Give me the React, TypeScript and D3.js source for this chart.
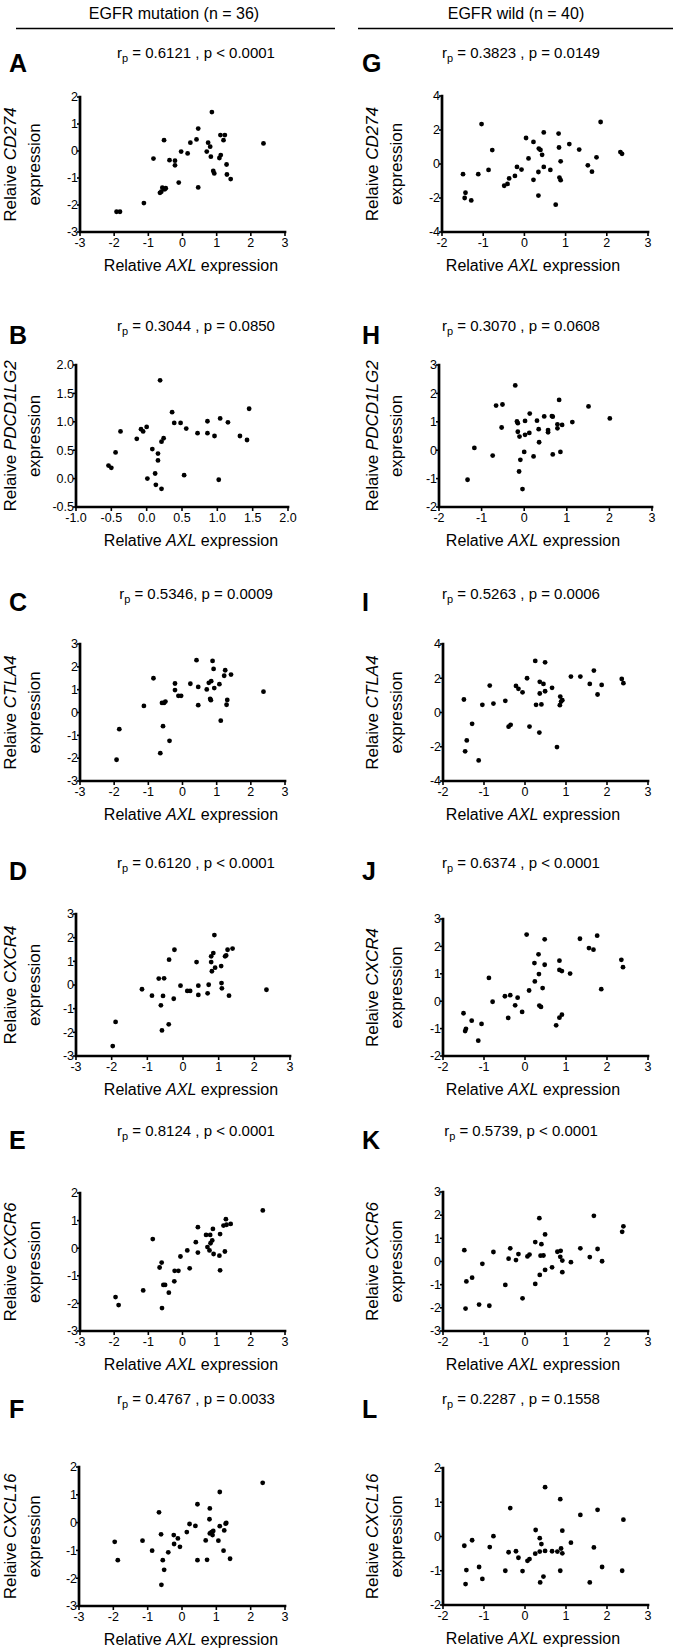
import React from 'react';
import * as d3 from 'd3';

type Pt = [number, number];

// AXL (x) vs gene (y), EGFR mutation group
const cd274Mut: Pt[] = [
  [0.86, 1.44], [0.46, 0.83], [-0.54, 0.4], [0.41, 0.43], [0.23, 0.31], [1.11, 0.59], [1.24, 0.59],
  [1.2, 0.4], [2.37, 0.28], [0.75, 0.31], [0.81, 0.16], [0.71, -0.02], [-0.04, -0.02], [0.15, -0.09],
  [-0.85, -0.28], [-0.38, -0.34], [-0.22, -0.36], [-0.22, -0.53], [0.83, -0.21], [1.12, -0.15],
  [1.08, -0.26], [1.29, -0.5], [0.9, -0.74], [0.93, -0.83], [1.3, -0.87], [1.41, -1.04], [-0.11, -1.17],
  [0.46, -1.35], [-0.59, -1.36], [-0.52, -1.42], [-0.62, -1.51], [-0.66, -1.55], [-1.13, -1.93],
  [-1.93, -2.25], [-1.83, -2.25], [-0.49, -1.38],
];
const pdcd1lg2Mut: Pt[] = [
  [0.19, 1.73], [1.45, 1.23], [0.36, 1.17], [0.39, 0.98], [0.48, 0.98], [0.86, 1.01], [1.04, 1.06],
  [1.15, 0.99], [0.0, 0.91], [-0.08, 0.87], [-0.05, 0.83], [-0.37, 0.83], [0.56, 0.88], [0.72, 0.8],
  [0.86, 0.8], [0.96, 0.75], [1.32, 0.75], [1.42, 0.68], [-0.14, 0.7], [0.24, 0.71], [0.21, 0.65],
  [-0.44, 0.46], [0.08, 0.52], [0.16, 0.44], [0.16, 0.32], [-0.54, 0.23], [-0.5, 0.19], [0.12, 0.09],
  [0.53, 0.06], [0.01, 0.0], [1.02, -0.02], [0.13, -0.11], [0.21, -0.18],
];
const ctla4Mut: Pt[] = [
  [0.41, 2.29], [0.88, 2.26], [0.91, 1.91], [1.25, 1.85], [1.42, 1.66], [1.22, 1.61], [-0.85, 1.5],
  [0.84, 1.37], [0.77, 1.3], [-0.22, 1.27], [0.23, 1.26], [1.08, 1.24], [0.46, 1.12], [0.93, 1.07],
  [0.71, 1.01], [-0.22, 0.98], [-0.12, 0.73], [-0.04, 0.73], [0.81, 0.6], [0.83, 0.54], [1.31, 0.55],
  [-0.5, 0.48], [-0.6, 0.42], [-0.54, 0.42], [0.46, 0.32], [1.29, 0.34], [-1.13, 0.29], [1.12, -0.36],
  [-1.85, -0.73], [-0.57, -0.6], [-0.38, -1.24], [-0.65, -1.78], [-1.93, -2.07], [2.37, 0.91],
];
const cxcr4Mut: Pt[] = [
  [0.88, 2.11], [1.39, 1.54], [1.25, 1.49], [-0.24, 1.49], [0.85, 1.35], [0.79, 1.21], [1.21, 1.25],
  [1.18, 1.21], [-0.39, 1.07], [0.38, 0.97], [0.79, 0.97], [1.07, 0.8], [0.9, 0.73], [0.81, 0.58],
  [-0.68, 0.27], [-0.53, 0.28], [1.08, 0.08], [-0.07, -0.03], [0.43, -0.03], [0.72, 0.01], [1.09, -0.14],
  [-1.15, -0.18], [2.34, -0.2], [0.12, -0.25], [0.2, -0.25], [-0.87, -0.45], [-0.56, -0.46], [0.43, -0.42],
  [0.69, -0.35], [1.29, -0.45], [-0.26, -0.58], [-0.62, -0.86], [-0.4, -1.66], [-0.59, -1.92],
  [-1.89, -1.56], [-1.97, -2.58],
];
const cxcr6Mut: Pt[] = [
  [2.35, 1.37], [1.27, 1.05], [1.41, 0.88], [1.29, 0.85], [1.2, 0.82], [0.45, 0.76], [0.89, 0.7],
  [-0.87, 0.33], [0.69, 0.48], [0.81, 0.48], [1.1, 0.51], [0.87, 0.28], [0.39, 0.22], [0.82, 0.18],
  [0.14, -0.08], [0.73, 0.04], [0.79, -0.08], [0.45, -0.16], [1.24, -0.12], [0.91, -0.21], [1.08, -0.27],
  [-0.06, -0.3], [-0.61, -0.52], [-0.67, -0.7], [0.21, -0.73], [-0.23, -0.82], [-0.12, -0.82], [1.1, -0.8],
  [-0.24, -1.2], [-0.56, -1.33], [-0.51, -1.33], [-1.15, -1.53], [-0.4, -1.61], [-1.96, -1.77],
  [-1.87, -2.06], [-0.6, -2.17],
];
const cxcl16Mut: Pt[] = [
  [2.35, 1.43], [1.1, 1.1], [0.45, 0.66], [0.81, 0.51], [-0.67, 0.37], [0.8, 0.12], [0.22, -0.05],
  [0.39, -0.12], [1.29, -0.01], [1.27, -0.04], [1.1, -0.13], [0.14, -0.34], [0.91, -0.3], [0.86, -0.34],
  [0.81, -0.39], [0.89, -0.45], [1.23, -0.28], [-0.61, -0.42], [-0.24, -0.45], [-0.12, -0.57],
  [0.69, -0.64], [1.06, -0.65], [-1.96, -0.69], [-1.15, -0.65], [-0.23, -0.77], [-0.06, -0.87],
  [-0.87, -1.01], [1.21, -1.01], [-0.4, -1.07], [-1.87, -1.35], [-0.56, -1.35], [0.45, -1.35],
  [0.73, -1.34], [1.4, -1.3], [-0.52, -1.7], [-0.6, -2.24],
];

// AXL (x) vs gene (y), EGFR wild group
const cd274Wild: Pt[] = [
  [-1.04, 2.35], [1.85, 2.47], [0.47, 1.86], [0.83, 1.79], [0.04, 1.53], [0.22, 1.3], [1.09, 1.17],
  [0.84, 0.97], [1.33, 0.85], [0.35, 0.91], [0.39, 0.83], [-0.78, 0.82], [2.33, 0.7], [2.37, 0.6],
  [0.43, 0.54], [1.75, 0.39], [0.1, 0.33], [0.88, 0.16], [-1.49, -0.6], [-1.12, -0.6], [-0.87, -0.35],
  [-0.18, -0.17], [-0.07, -0.33], [0.47, -0.17], [0.63, -0.35], [0.34, -0.47], [1.54, -0.08],
  [1.64, -0.45], [-0.23, -0.7], [-0.37, -0.85], [0.22, -0.93], [0.85, -0.8], [0.88, -0.95],
  [-0.41, -1.17], [-0.49, -1.28], [-1.43, -1.69], [-1.45, -2.0], [-1.29, -2.14], [0.34, -1.86],
  [0.76, -2.39],
];
const pdcd1lg2Wild: Pt[] = [
  [-0.21, 2.28], [-0.66, 1.57], [-0.51, 1.61], [0.82, 1.77], [1.51, 1.54], [0.13, 1.29], [0.47, 1.19],
  [0.65, 1.2], [0.67, 1.18], [2.01, 1.12], [-0.17, 1.01], [-0.15, 0.95], [0.02, 1.03], [0.3, 1.04],
  [1.13, 0.99], [0.78, 0.91], [0.89, 0.89], [0.78, 0.77], [-0.53, 0.8], [0.34, 0.74], [0.56, 0.71],
  [0.56, 0.63], [-0.15, 0.65], [0.12, 0.61], [0.02, 0.54], [-0.11, 0.48], [0.35, 0.28], [-1.17, 0.08],
  [0.0, -0.06], [0.85, -0.06], [-0.74, -0.19], [0.22, -0.22], [0.67, -0.15], [-0.09, -0.34],
  [-0.12, -0.75], [-1.33, -1.04], [-0.04, -1.37],
];
const ctla4Wild: Pt[] = [
  [0.25, 3.01], [0.49, 2.93], [1.68, 2.45], [1.12, 2.1], [1.35, 2.1], [2.36, 1.96], [2.4, 1.71],
  [0.05, 2.0], [0.36, 1.79], [0.45, 1.67], [1.58, 1.67], [1.87, 1.61], [-0.86, 1.57], [-0.22, 1.55],
  [-0.16, 1.38], [0.66, 1.44], [0.49, 1.24], [-0.06, 1.18], [0.36, 1.11], [1.77, 1.05], [0.86, 0.93],
  [0.91, 0.72], [0.88, 0.64], [-1.49, 0.76], [-0.48, 0.68], [-0.77, 0.52], [-1.04, 0.45], [0.27, 0.45],
  [0.4, 0.47], [0.85, 0.43], [-1.29, -0.66], [-0.35, -0.72], [-0.4, -0.83], [0.11, -0.82],
  [0.35, -1.17], [-1.42, -1.63], [-1.46, -2.27], [0.78, -2.02], [-1.13, -2.8],
];
const cxcr4Wild: Pt[] = [
  [0.04, 2.43], [1.76, 2.39], [1.34, 2.28], [0.48, 2.26], [1.56, 1.94], [1.67, 1.88], [0.33, 1.71],
  [2.35, 1.51], [2.39, 1.24], [0.84, 1.48], [0.23, 1.39], [0.48, 1.33], [0.84, 1.14], [0.9, 1.1],
  [1.1, 1.01], [0.34, 0.99], [-0.88, 0.85], [0.24, 0.72], [0.43, 0.48], [1.86, 0.44], [0.1, 0.39],
  [-0.49, 0.18], [-0.36, 0.22], [-0.18, 0.13], [-0.79, -0.02], [-0.24, -0.15], [0.35, -0.16],
  [0.39, -0.21], [-0.07, -0.39], [-1.5, -0.44], [0.9, -0.49], [0.84, -0.6], [-0.41, -0.61],
  [-1.3, -0.71], [-1.06, -0.83], [0.76, -0.88], [-1.44, -1.01], [-1.46, -1.09], [-1.14, -1.44],
];
const cxcr6Wild: Pt[] = [
  [0.35, 1.87], [1.68, 1.97], [2.4, 1.52], [2.37, 1.28], [0.49, 1.17], [0.25, 0.84], [0.4, 0.75],
  [-1.48, 0.49], [-0.77, 0.41], [-0.36, 0.57], [1.35, 0.57], [1.77, 0.54], [-0.16, 0.32], [0.11, 0.3],
  [0.06, 0.22], [-0.4, 0.12], [-0.22, 0.06], [0.38, 0.25], [0.45, 0.26], [0.79, 0.42], [0.87, 0.46],
  [0.86, 0.2], [0.91, 0.04], [1.12, -0.03], [1.58, 0.19], [1.88, 0.01], [-1.04, -0.1], [0.66, -0.25],
  [0.49, -0.36], [0.91, -0.46], [0.36, -0.58], [-1.29, -0.7], [-1.43, -0.86], [-0.48, -1.01],
  [0.25, -0.97], [-0.06, -1.59], [-1.12, -1.86], [-0.87, -1.91], [-1.45, -2.03],
];
const cxcl16Wild: Pt[] = [
  [0.49, 1.44], [0.86, 1.09], [-0.36, 0.83], [1.77, 0.78], [1.35, 0.63], [2.4, 0.49], [0.26, 0.19],
  [0.91, 0.17], [-0.77, 0.01], [0.36, -0.05], [-1.29, -0.11], [1.12, -0.18], [0.4, -0.22], [-1.48, -0.27],
  [-0.86, -0.31], [1.68, -0.32], [0.88, -0.35], [-0.22, -0.43], [-0.4, -0.46], [0.36, -0.44],
  [0.49, -0.42], [0.66, -0.43], [0.79, -0.44], [0.25, -0.5], [0.91, -0.49], [-0.16, -0.62],
  [0.11, -0.66], [0.06, -0.71], [-1.12, -0.89], [1.88, -0.89], [-1.43, -0.98], [-0.48, -1.0],
  [-0.06, -1.01], [0.86, -1.0], [2.37, -1.0], [-1.04, -1.24], [0.45, -1.17], [0.37, -1.34],
  [1.58, -1.34], [-1.45, -1.39],
];

const xTicksMut = [-3, -2, -1, 0, 1, 2, 3];
const xTicksWild = [-2, -1, 0, 1, 2, 3];
const xTicksB = [-1.0, -0.5, 0.0, 0.5, 1.0, 1.5, 2.0];
const yTicksB = [-0.5, 0.0, 0.5, 1.0, 1.5, 2.0];
const yTicks3to2 = [-3, -2, -1, 0, 1, 2];
const yTicks3to3 = [-3, -2, -1, 0, 1, 2, 3];
const yTicks2to3 = [-2, -1, 0, 1, 2, 3];
const yTicks2to2 = [-2, -1, 0, 1, 2];
const yTicks4 = [-4, -2, 0, 2, 4];

const panels = [
  { id: 'A', gene: 'CD274', stat: ' = 0.6121 , p < 0.0001', pts: cd274Mut, xt: xTicksMut, yt: yTicks3to2, dec: false, col: 0, row: 0, box: [80, 285, 97, 232] },
  { id: 'B', gene: 'PDCD1LG2', stat: ' = 0.3044 , p = 0.0850', pts: pdcd1lg2Mut, xt: xTicksB, yt: yTicksB, dec: true, col: 0, row: 1, box: [76, 288, 365, 507] },
  { id: 'C', gene: 'CTLA4', stat: ' = 0.5346, p = 0.0009', pts: ctla4Mut, xt: xTicksMut, yt: yTicks3to3, dec: false, col: 0, row: 2, box: [80, 285, 644, 781] },
  { id: 'D', gene: 'CXCR4', stat: ' = 0.6120 , p < 0.0001', pts: cxcr4Mut, xt: xTicksMut, yt: yTicks3to3, dec: false, col: 0, row: 3, box: [76, 290, 914, 1056] },
  { id: 'E', gene: 'CXCR6', stat: ' = 0.8124 , p < 0.0001', pts: cxcr6Mut, xt: xTicksMut, yt: yTicks3to2, dec: false, col: 0, row: 4, box: [80, 285, 1193, 1331] },
  { id: 'F', gene: 'CXCL16', stat: ' = 0.4767 , p = 0.0033', pts: cxcl16Mut, xt: xTicksMut, yt: yTicks3to2, dec: false, col: 0, row: 5, box: [79, 285, 1467, 1606] },
  { id: 'G', gene: 'CD274', stat: ' = 0.3823 , p = 0.0149', pts: cd274Wild, xt: xTicksWild, yt: yTicks4, dec: false, col: 1, row: 0, box: [442, 648, 96, 232] },
  { id: 'H', gene: 'PDCD1LG2', stat: ' = 0.3070 , p = 0.0608', pts: pdcd1lg2Wild, xt: xTicksWild, yt: yTicks2to3, dec: false, col: 1, row: 1, box: [439, 652, 365, 507] },
  { id: 'I', gene: 'CTLA4', stat: ' = 0.5263 , p = 0.0006', pts: ctla4Wild, xt: xTicksWild, yt: yTicks4, dec: false, col: 1, row: 2, box: [443, 648, 644, 781] },
  { id: 'J', gene: 'CXCR4', stat: ' = 0.6374 , p < 0.0001', pts: cxcr4Wild, xt: xTicksWild, yt: yTicks2to3, dec: false, col: 1, row: 3, box: [443, 648, 919, 1056] },
  { id: 'K', gene: 'CXCR6', stat: ' = 0.5739, p < 0.0001', pts: cxcr6Wild, xt: xTicksWild, yt: yTicks3to3, dec: false, col: 1, row: 4, box: [443, 648, 1192, 1331] },
  { id: 'L', gene: 'CXCL16', stat: ' = 0.2287 , p = 0.1558', pts: cxcl16Wild, xt: xTicksWild, yt: yTicks2to2, dec: false, col: 1, row: 5, box: [443, 648, 1468, 1605] },
];

const titleY = [53, 326, 594, 863, 1131, 1399];
const letterY = [63, 335, 602, 871, 1140, 1409];
const FONT = '"Liberation Sans", Arial, Helvetica, sans-serif';

function Panel({ p }: { p: any }) {
  const [x0, x1, y0, y1] = p.box;
  const xt: number[] = p.xt;
  const yt: number[] = p.yt;
  const x = d3.scaleLinear().domain([xt[0], xt[xt.length - 1]]).range([x0, x1]);
  const y = d3.scaleLinear().domain([yt[0], yt[yt.length - 1]]).range([y1, y0]);
  const fmt = (v: number) => (p.dec ? v.toFixed(1) : String(v));
  const left = p.col === 0;
  const titleX = left ? 196 : 521;
  const letterX = left ? 9 : 362;
  const lab1 = left ? 16 : 378;
  const lab2 = left ? 40 : 402;
  const xLabX = left ? 191 : 533;
  const midY = (y0 + y1) / 2;
  const axisPath = d3.line()([[x0, y0], [x0, y1], [x1, y1]]) as string;

  return (
    <g>
      <text x={letterX} y={letterY[p.row] + 9} fontSize={25} fontWeight="bold">{p.id}</text>
      <text x={titleX} y={titleY[p.row] + 5} fontSize={15} textAnchor="middle">
        r<tspan fontSize={11} dy={4}>p</tspan><tspan dy={-4}>{p.stat}</tspan>
      </text>
      <text transform={`translate(${lab1},${midY}) rotate(-90)`} fontSize={17} textAnchor="middle">
        Relaive <tspan fontStyle="italic">{p.gene}</tspan>
      </text>
      <text transform={`translate(${lab2},${midY}) rotate(-90)`} fontSize={17} textAnchor="middle">
        expression
      </text>
      <text x={xLabX} y={y1 + 39} fontSize={16} textAnchor="middle">
        Relative <tspan fontStyle="italic">AXL</tspan> expression
      </text>
      {xt.map((v) => (
        <g key={'x' + v}>
          <line x1={x(v)} x2={x(v)} y1={y1} y2={y1 + 4} stroke="#000" strokeWidth={1.6} />
          <text x={x(v)} y={y1 + 14.5} fontSize={12.5} textAnchor="middle">{fmt(v)}</text>
        </g>
      ))}
      {yt.map((v) => (
        <g key={'y' + v}>
          <line x1={x0 - 3} x2={x0} y1={y(v)} y2={y(v)} stroke="#000" strokeWidth={1.6} />
          <text x={x0 - 2} y={y(v) + 4.3} fontSize={12.5} textAnchor="end">{fmt(v)}</text>
        </g>
      ))}
      <path d={axisPath} fill="none" stroke="#000" strokeWidth={2.7} strokeLinecap="square" />
      {(p.pts as Pt[]).map((d, i) => (
        <circle key={i} cx={x(d[0])} cy={y(d[1])} r={2.4} fill="#000" />
      ))}
    </g>
  );
}

export default function App() {
  return (
    <svg width={685} height={1651} style={{ position: 'absolute', left: 0, top: 0, background: '#fff' }}
      fontFamily={FONT} fill="#000">
      <rect width={685} height={1651} fill="#fff" />
      <text x={174} y={19} fontSize={16} textAnchor="middle">EGFR mutation (n = 36)</text>
      <text x={516} y={19} fontSize={16} textAnchor="middle">EGFR wild (n = 40)</text>
      <line x1={16} x2={335} y1={28.5} y2={28.5} stroke="#000" strokeWidth={1.5} />
      <line x1={358} x2={673} y1={28.5} y2={28.5} stroke="#000" strokeWidth={1.5} />
      {panels.map((p) => <Panel key={p.id} p={p} />)}
    </svg>
  );
}
